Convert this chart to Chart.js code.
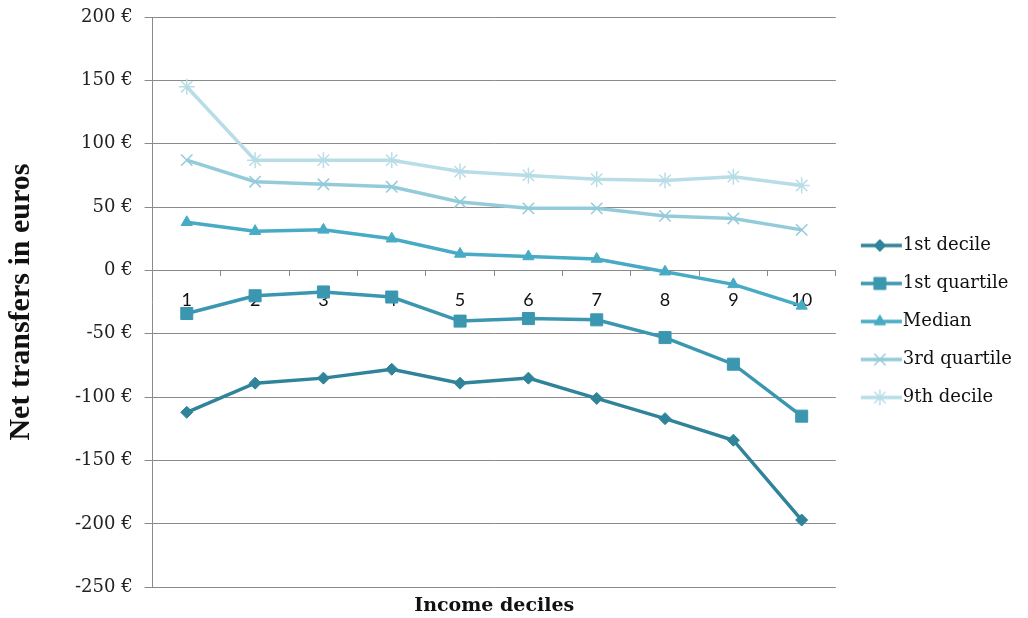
<!DOCTYPE html>
<html>
<head>
<meta charset="utf-8">
<script src="https://cdn.jsdelivr.net/npm/chart.js@4"></script>
<style>
  html, body { margin: 0; padding: 0; background: #fff; }
  #wrap { width: 1028px; height: 618px; }
</style>
</head>
<body>
<div id="wrap"><canvas id="chart"></canvas></div>
<script>
// income deciles on the x axis
const DECILES = ["1", "2", "3", "4", "5", "6", "7", "8", "9", "10"];

// net transfers (euros) per distribution statistic
const FIRST_DECILE   = [-112, -89, -85, -78, -89, -85, -101, -117, -134, -197];
const FIRST_QUARTILE = [-34, -20, -17, -21, -40, -38, -39, -53, -74, -115];
const MEDIAN         = [38, 31, 32, 25, 13, 11, 9, -1, -11, -28];
const THIRD_QUARTILE = [87, 70, 68, 66, 54, 49, 49, 43, 41, 32];
const NINTH_DECILE   = [145, 87, 87, 87, 78, 75, 72, 71, 74, 67];

const SERIES_NAMES = ["1st decile", "1st quartile", "Median", "3rd quartile", "9th decile"];
const Y_TICKS = { min: -250, max: 200, step: 50 };

// look of each series (Excel-ish blue/teal ramp)
const STYLES = [
  { color: "#2f8499", marker: "rectRot",  radius: 6,   bw: 1 },
  { color: "#3b97b0", marker: "rect",     radius: 8.5, bw: 1 },
  { color: "#48abc5", marker: "triangle", radius: 6.5, bw: 1 },
  { color: "#94cbdb", marker: "crossRot", radius: 8,   bw: 1.5 },
  { color: "#b8dde7", marker: "star",     radius: 8,   bw: 1.5 }
];

const values = [FIRST_DECILE, FIRST_QUARTILE, MEDIAN, THIRD_QUARTILE, NINTH_DECILE];

// small canvas with a line + marker, used as legend symbol
// (the legend centres it on the 38px box, so the line sits a bit right of centre)
function legendIcon(st) {
  const c = document.createElement("canvas");
  c.width = 64; c.height = 18;
  const ctx = c.getContext("2d");
  ctx.strokeStyle = st.color;
  ctx.lineWidth = 3.5;
  ctx.beginPath();
  ctx.moveTo(18, 9); ctx.lineTo(59, 9);
  ctx.stroke();
  ctx.fillStyle = st.color;
  ctx.lineWidth = st.bw;
  Chart.helpers.drawPoint(ctx, { pointStyle: st.marker, radius: st.radius, rotation: 0, borderWidth: st.bw }, 37, 9);
  return c;
}
const icons = STYLES.map(legendIcon);

const GRID = "#8a8a8a";

new Chart(document.getElementById("chart"), {
  type: "line",
  data: {
    labels: DECILES,
    datasets: values.map((v, i) => ({
      label: SERIES_NAMES[i],
      data: v,
      borderColor: STYLES[i].color,
      backgroundColor: STYLES[i].color,
      borderWidth: 3.5,
      pointStyle: STYLES[i].marker,
      pointRadius: STYLES[i].radius,
      pointBorderWidth: STYLES[i].bw,
      pointBackgroundColor: STYLES[i].color,
      pointBorderColor: STYLES[i].color,
      tension: 0
    }))
  },
  options: {
    responsive: true,
    maintainAspectRatio: false,
    animation: false,
    layout: { padding: { left: 0, top: 17, right: 6, bottom: 0 } },
    plugins: {
      legend: {
        position: "right",
        // empty title just nudges the items down a little
        title: { display: true, text: " ", font: { size: 6 }, padding: 0.4 },
        labels: {
          usePointStyle: true,
          pointStyleWidth: 38,
          padding: 20,
          color: "#111",
          font: { family: "'DejaVu Serif'", size: 18 },
          generateLabels(chart) {
            const items = Chart.defaults.plugins.legend.labels.generateLabels(chart);
            items.forEach((it, i) => { it.pointStyle = icons[i]; it.rotation = 0; });
            return items;
          }
        }
      },
      title: {
        display: true,
        position: "bottom",
        fullSize: false,
        text: "Income deciles",
        color: "#111",
        font: { family: "'DejaVu Serif'", size: 19, weight: "bold" },
        padding: { top: 7, bottom: 1 }
      },
      tooltip: { enabled: false }
    },
    scales: {
      x: {
        position: { y: 0 },
        offset: true,
        grid: { drawOnChartArea: false, drawTicks: true, tickLength: 5, color: GRID, offset: true },
        border: { color: GRID, width: 1 },
        ticks: { color: "#111", padding: 14, font: { family: "Lato", size: 18 } }
      },
      y: {
        min: Y_TICKS.min,
        max: Y_TICKS.max,
        title: {
          display: true,
          text: "Net transfers in euros",
          color: "#111",
          font: { family: "'Liberation Serif'", size: 30, weight: "bold" },
          padding: { top: 3, bottom: 24 }
        },
        grid: { color: GRID, lineWidth: 1, tickLength: 8 },
        border: { color: GRID, width: 1 },
        ticks: {
          stepSize: Y_TICKS.step,
          padding: 12,
          color: "#222",
          // small lineHeight keeps the label overhang from pushing the plot down
          font: { family: "'DejaVu Serif'", size: 18, lineHeight: 0.4 },
          callback: v => v + " €"
        }
      }
    }
  }
});
</script>
</body>
</html>
